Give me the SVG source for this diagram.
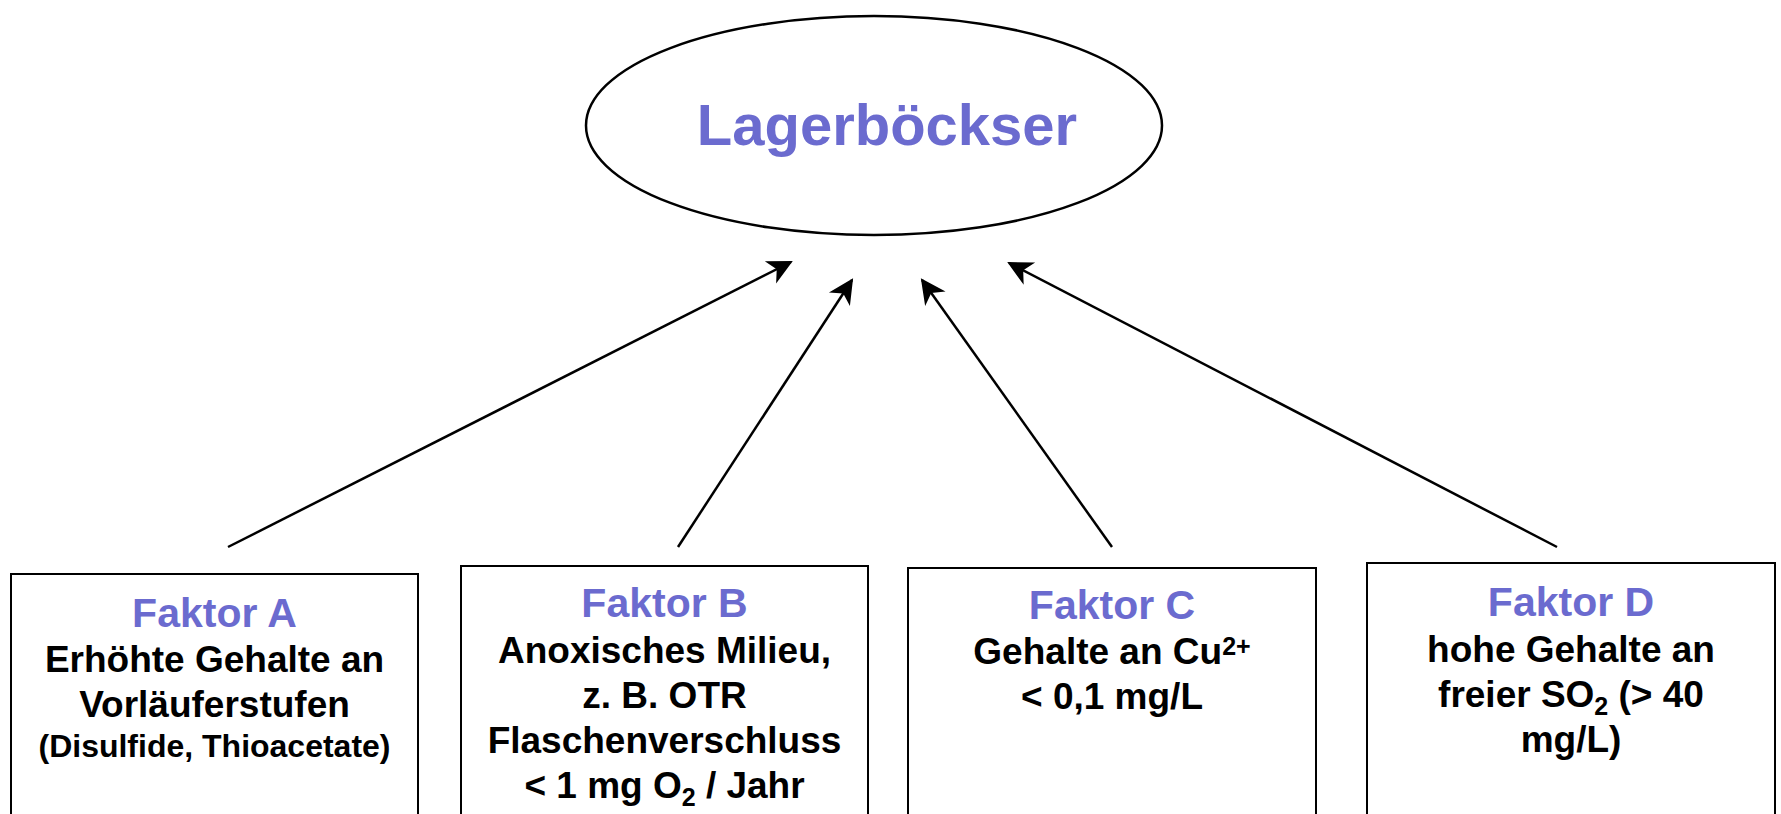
<svg xmlns="http://www.w3.org/2000/svg" width="1781" height="814" viewBox="0 0 1781 814">
  <style>
    .box { fill: #ffffff; stroke: #000000; stroke-width: 2; }
    .t { font-family: "Liberation Sans", Arial, sans-serif; font-weight: bold; text-anchor: middle; }
    .head { fill: #6B6BCF; font-size: 41px; }
    .body { fill: #000000; font-size: 37px; }
    .small { fill: #000000; font-size: 32px; }
    .conn { stroke: #000000; stroke-width: 2.5; fill: none; marker-end: url(#arrow); }
  </style>
  <defs>
    <marker id="arrow" markerUnits="userSpaceOnUse" markerWidth="30" markerHeight="28" refX="25" refY="13" orient="auto" overflow="visible">
      <path d="M27,13 L2,0.5 L9,13 L2,25.5 Z" fill="#000000"/>
    </marker>
  </defs>
  <rect width="1781" height="814" fill="#ffffff"/>

  <g id="connectors">
    <line class="conn" x1="228" y1="547" x2="791" y2="262"/>
    <line class="conn" x1="678" y1="547" x2="852" y2="280"/>
    <line class="conn" x1="1112" y1="547" x2="922" y2="280"/>
    <line class="conn" x1="1557" y1="547" x2="1009" y2="263"/>
  </g>

  <g id="lagerboeckser">
    <ellipse cx="874" cy="125.5" rx="288" ry="109.5" fill="#ffffff" stroke="#000000" stroke-width="2.5"/>
    <text class="t" x="887" y="145" fill="#6B6BCF" font-size="58">Lagerböckser</text>
  </g>

  <g id="faktor-a">
    <rect class="box" x="11" y="574" width="407" height="260"/>
    <text class="t head" x="214.5" y="627">Faktor A</text>
    <text class="t body" x="214.5" y="672">Erhöhte Gehalte an</text>
    <text class="t body" x="214.5" y="717">Vorläuferstufen</text>
    <text class="t small" x="214.5" y="757">(Disulfide, Thioacetate)</text>
  </g>

  <g id="faktor-b">
    <rect class="box" x="461" y="566" width="407" height="268"/>
    <text class="t head" x="664.5" y="617">Faktor B</text>
    <text class="t body" x="664.5" y="663">Anoxisches Milieu,</text>
    <text class="t body" x="664.5" y="708">z. B. OTR</text>
    <text class="t body" x="664.5" y="753">Flaschenverschluss</text>
    <text class="t body" x="664.5" y="798">&lt; 1 mg O<tspan font-size="25" dy="8">2</tspan><tspan dy="-8"> / Jahr</tspan></text>
  </g>

  <g id="faktor-c">
    <rect class="box" x="908" y="568" width="408" height="266"/>
    <text class="t head" x="1112" y="619">Faktor C</text>
    <text class="t body" x="1112" y="664">Gehalte an Cu<tspan font-size="25" dy="-9">2+</tspan></text>
    <text class="t body" x="1112" y="709">&lt; 0,1 mg/L</text>
  </g>

  <g id="faktor-d">
    <rect class="box" x="1367" y="563" width="408" height="271"/>
    <text class="t head" x="1571" y="616">Faktor D</text>
    <text class="t body" x="1571" y="662">hohe Gehalte an</text>
    <text class="t body" x="1571" y="707">freier SO<tspan font-size="25" dy="8">2</tspan><tspan dy="-8"> (&gt; 40</tspan></text>
    <text class="t body" x="1571" y="752">mg/L)</text>
  </g>
</svg>
